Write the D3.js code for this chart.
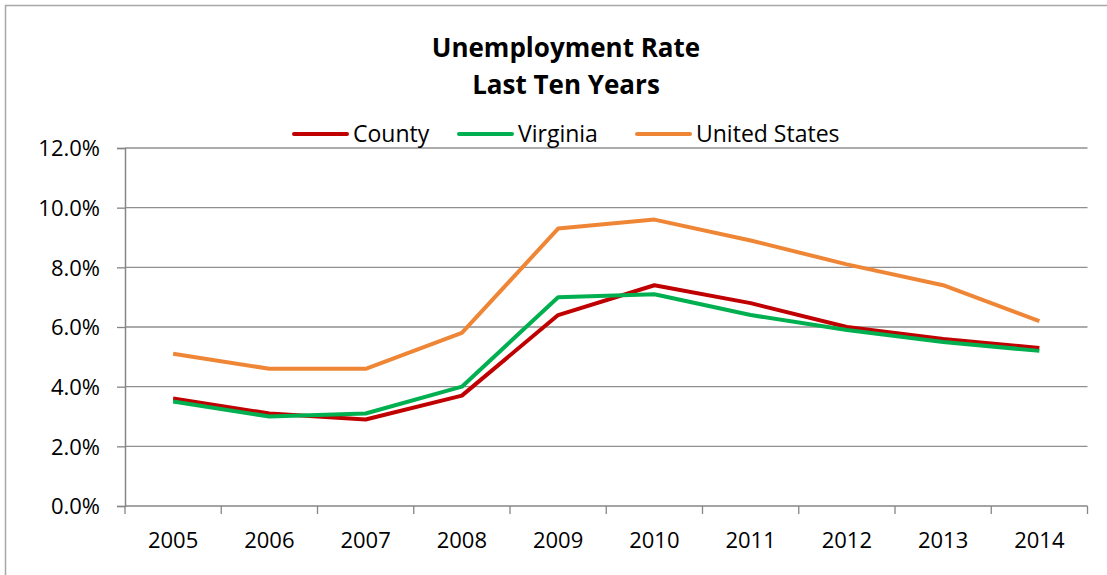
<!DOCTYPE html>
<html>
<head>
<meta charset="utf-8">
<script src="https://cdn.jsdelivr.net/npm/d3@7"></script>
<style>
  html, body { margin: 0; padding: 0; background: #fff; }
  svg { display: block; }
  text { font-family: "Open Sans", Lato, sans-serif; fill: #000; }
</style>
</head>
<body>
<svg id="chart" width="1107" height="575"></svg>
<script>
const years = ["2005","2006","2007","2008","2009","2010","2011","2012","2013","2014"];
const county = [3.6, 3.1, 2.9, 3.7, 6.4, 7.4, 6.8, 6.0, 5.6, 5.3];
const virginia = [3.5, 3.0, 3.1, 4.0, 7.0, 7.1, 6.4, 5.9, 5.5, 5.2];
const unitedStates = [5.1, 4.6, 4.6, 5.8, 9.3, 9.6, 8.9, 8.1, 7.4, 6.2];
const seriesNames = ["County", "Virginia", "United States"];
const seriesColors = ["#C00000", "#00B050", "#EF8636"];
const yTicks = [0, 2, 4, 6, 8, 10, 12];
const titleLines = ["Unemployment Rate", "Last Ten Years"];

const series = [county, virginia, unitedStates];

const svg = d3.select("#chart");
const W = 1107, H = 575;
const plot = { left: 125, right: 1087.5, top: 148, bottom: 506 };
const FONT = "'Open Sans', Lato, sans-serif";

// outer border
svg.append("rect").attr("x", 5.5).attr("y", 5.5).attr("width", W + 10).attr("height", H + 10)
  .attr("fill", "#fff").attr("stroke", "#a6a6a6").attr("stroke-width", 1.5);

const x = d3.scaleBand().domain(years).range([plot.left, plot.right]).paddingInner(0).paddingOuter(0);
const y = d3.scaleLinear().domain([0, 12]).range([plot.bottom, plot.top]);

// gridlines
svg.append("g").selectAll("line").data(yTicks.filter(d => d > 0)).join("line")
  .attr("x1", plot.left).attr("x2", plot.right)
  .attr("y1", d => y(d)).attr("y2", d => y(d))
  .attr("stroke", "#8f8f8f").attr("stroke-width", 1.3);

// y axis
const yAxis = d3.axisLeft(y).tickValues(yTicks).tickSize(8).tickPadding(17)
  .tickFormat(d => d.toFixed(1) + "%");
const gy = svg.append("g").attr("transform", `translate(${plot.left},0)`).call(yAxis);
gy.select(".domain").attr("stroke", "#868686").attr("stroke-width", 1.5);
gy.selectAll(".tick line").attr("stroke", "#868686").attr("stroke-width", 1.3);
gy.selectAll(".tick text").attr("font-size", 22).attr("font-family", FONT).attr("fill", "#000").attr("dy", "0.36em");

// x axis
const gx = svg.append("g");
gx.append("line").attr("x1", plot.left).attr("x2", plot.right)
  .attr("y1", plot.bottom).attr("y2", plot.bottom)
  .attr("stroke", "#868686").attr("stroke-width", 1.5);
const boundaries = years.map(d => x(d)).concat([x(years[years.length - 1]) + x.bandwidth()]);
gx.selectAll("line.tk").data(boundaries).join("line").attr("class", "tk")
  .attr("x1", d => d).attr("x2", d => d)
  .attr("y1", plot.bottom).attr("y2", plot.bottom + 8)
  .attr("stroke", "#868686").attr("stroke-width", 1.3);
gx.selectAll("text").data(years).join("text")
  .attr("x", d => x(d) + x.bandwidth() / 2).attr("y", 548)
  .attr("text-anchor", "middle").attr("font-size", 22).text(d => d);

// lines
const line = d3.line().x((d, i) => x(years[i]) + x.bandwidth() / 2).y(d => y(d));
svg.append("g").selectAll("path").data(series).join("path")
  .attr("d", d => line(d)).attr("fill", "none")
  .attr("stroke", (d, i) => seriesColors[i]).attr("stroke-width", 4)
  .attr("stroke-linejoin", "round").attr("stroke-linecap", "butt");

// title
svg.append("g").selectAll("text").data(titleLines).join("text")
  .attr("x", 566).attr("y", (d, i) => 57 + i * 37)
  .attr("text-anchor", "middle").attr("font-size", 26).attr("font-weight", "bold").text(d => d);

// legend
const legendX = [294, 459, 637];
const lg = svg.append("g").selectAll("g").data(seriesNames).join("g")
  .attr("transform", (d, i) => `translate(${legendX[i]},134)`);
lg.append("line").attr("x1", 0).attr("x2", 53).attr("y1", 0).attr("y2", 0)
  .attr("stroke", (d, i) => seriesColors[i]).attr("stroke-width", 4).attr("stroke-linecap", "round");
lg.append("text").attr("x", 59).attr("y", 8).attr("font-size", 23).text(d => d);
</script>
</body>
</html>
